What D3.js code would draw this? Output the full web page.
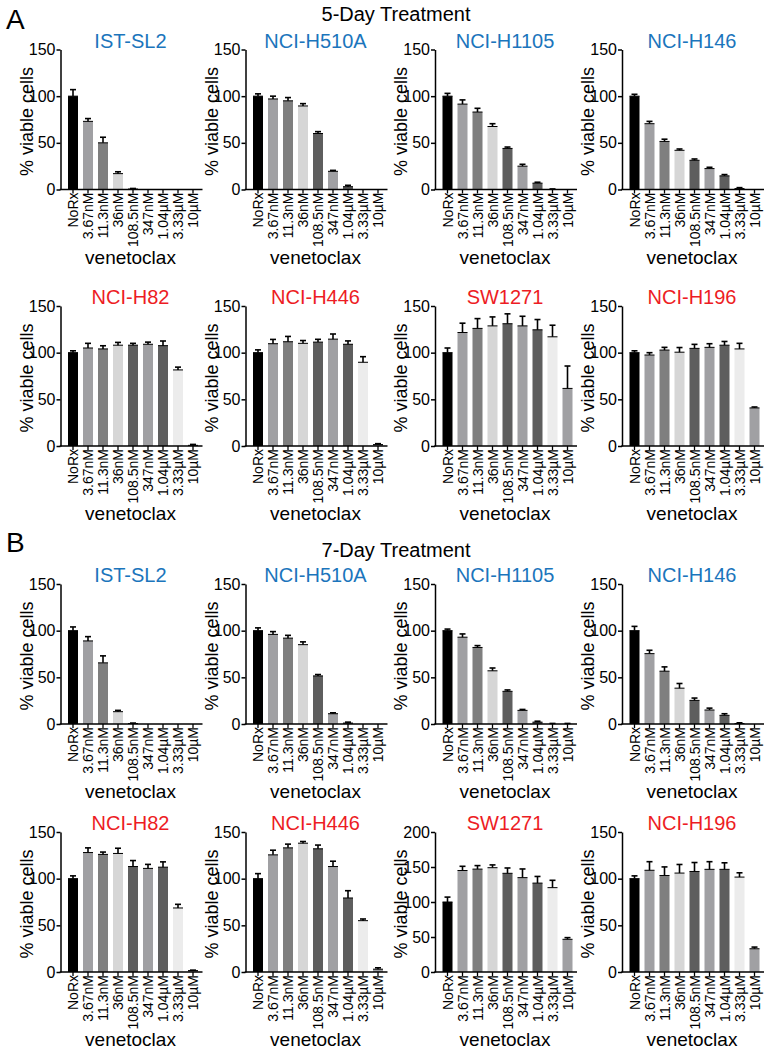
<!DOCTYPE html>
<html><head><meta charset="utf-8">
<script src="https://cdn.jsdelivr.net/npm/d3@7"></script>
<style>
body{margin:0;background:#fff}
svg{display:block}
text{font-family:Arial,"Liberation Sans",Helvetica,sans-serif;fill:#000}
</style>
</head><body>
<svg id="chart" width="770" height="1050"></svg>
<script>
// ---------- data ----------
const categories = ["NoRx","3.67nM","11.3nM","36nM","108.5nM","347nM","1.04µM","3.33µM","10µM"];
const cellLines = ["IST-SL2","NCI-H510A","NCI-H1105","NCI-H146","NCI-H82","NCI-H446","SW1271","NCI-H196"];
const sensitiveLines = ["IST-SL2","NCI-H510A","NCI-H1105","NCI-H146"];
const blockTitles = ["5-Day Treatment","7-Day Treatment"];
const blockLetters = ["A","B"];
const yTicksStd = [0,50,100,150];
const yTicksWide = [0,50,100,150,200];
const xAxisTitle = "venetoclax";
const yAxisTitle = "% viable cells";

// 5-day treatment (mean, error)
const d5_ISTSL2      = [100, 73, 50, 17, 0.5, 0, 0, 0, 0];
const d5_ISTSL2_err  = [7, 3, 6, 2, 0.6, 0, 0, 0, 0];
const d5_H510A       = [100, 97, 95, 89.5, 60, 19.5, 3, 0, 0];
const d5_H510A_err   = [2.5, 3, 3.5, 2.5, 2, 1, 1.5, 0, 0];
const d5_H1105       = [100, 91.5, 83, 67.5, 44, 25, 6.8, 0.3, 0];
const d5_H1105_err   = [3, 4.5, 4, 3, 1.5, 2, 1, 0.3, 0];
const d5_H146        = [100, 70.5, 51.5, 42, 31.3, 22.4, 14.6, 1, 0];
const d5_H146_err    = [2, 2.5, 2.4, 1.4, 1.4, 1.4, 1.4, 1, 0];
const d5_H82         = [100, 105, 104, 108, 108, 109, 107.5, 81.5, 0.7];
const d5_H82_err     = [2, 5, 3.4, 3, 2, 2.3, 5, 3, 1];
const d5_H446        = [100, 109.6, 111.7, 110, 111.3, 114.5, 109, 89.7, 1.5];
const d5_H446_err    = [3, 4.6, 5.7, 3, 3, 5.5, 3.6, 6, 1];
const d5_SW1271      = [100, 121.6, 126, 128.7, 131, 128.7, 124.5, 117, 61.7];
const d5_SW1271_err  = [5, 10, 10.5, 9.6, 10.6, 10.3, 11, 12.4, 24];
const d5_H196        = [100, 97.5, 102.8, 100.5, 104.6, 105.7, 108, 104, 40.8];
const d5_H196_err    = [2, 2.5, 2.9, 5, 4.3, 3.9, 4, 6, 1];

// 7-day treatment (mean, error)
const d7_ISTSL2      = [100, 89, 65.5, 13.2, 0.5, 0, 0, 0, 0];
const d7_ISTSL2_err  = [4, 4.6, 7.5, 1.4, 0.5, 0, 0, 0, 0];
const d7_H510A       = [100, 96, 92, 85, 51.5, 11, 1, 0, 0];
const d7_H510A_err   = [3, 3, 3, 3, 1.5, 1, 1, 0, 0];
const d7_H1105       = [100, 93, 82, 57, 35, 14.6, 2, 0.3, 0.3];
const d7_H1105_err   = [1.7, 3.5, 2, 3, 1.5, 1, 1, 0.3, 0.3];
const d7_H146        = [100, 75.4, 56.6, 38.4, 25.3, 15, 9.3, 0.5, 0];
const d7_H146_err    = [4.6, 3.6, 4.6, 5, 2.5, 2, 1.7, 0.8, 0];
const d7_H82         = [100, 128, 126, 127, 113, 111, 112.3, 68.6, 1.5];
const d7_H82_err     = [3, 5, 2.5, 5.6, 6.4, 4.3, 5.7, 3.9, 0.5];
const d7_H446        = [100, 125.5, 133, 138, 132, 113, 79.3, 55, 3];
const d7_H446_err    = [5.4, 5, 4, 1.8, 4, 5.7, 7.8, 1.8, 1.5];
const d7_SW1271      = [100, 145, 147, 149, 141, 134.8, 127, 120.5, 46.7];
const d7_SW1271_err  = [7, 6, 5, 4, 7.6, 12.4, 9.5, 10.5, 2.4];
const d7_H196        = [100, 109, 103.4, 106, 107.7, 110, 110, 101.7, 24.9];
const d7_H196_err    = [3, 9.2, 9.2, 9.2, 9.6, 8.2, 7, 4.6, 1.8];

// ---------- styles / layout ----------
const barFill = ["#000000","#a0a0a3","#7f7f7f","#d6d6d6","#5e5e5e","#a0a0a3","#5e5e5e","#ececec","#a0a0a3"];
const blue = "#1b75bc", red = "#ed1c24";
const colX = [60.5, 245.5, 435, 622];
const rowZero = [189.5, 446, 724, 972];
const plotH = 140, axisW = 142;

const blocks = [
  {vals:[d5_ISTSL2,d5_H510A,d5_H1105,d5_H146,d5_H82,d5_H446,d5_SW1271,d5_H196],
   errs:[d5_ISTSL2_err,d5_H510A_err,d5_H1105_err,d5_H146_err,d5_H82_err,d5_H446_err,d5_SW1271_err,d5_H196_err],
   ticks:[yTicksStd,yTicksStd,yTicksStd,yTicksStd,yTicksStd,yTicksStd,yTicksStd,yTicksStd]},
  {vals:[d7_ISTSL2,d7_H510A,d7_H1105,d7_H146,d7_H82,d7_H446,d7_SW1271,d7_H196],
   errs:[d7_ISTSL2_err,d7_H510A_err,d7_H1105_err,d7_H146_err,d7_H82_err,d7_H446_err,d7_SW1271_err,d7_H196_err],
   ticks:[yTicksStd,yTicksStd,yTicksStd,yTicksStd,yTicksStd,yTicksStd,yTicksWide,yTicksStd]}
];

const svg = d3.select("#chart");

// block letters and titles
const letterY = [29, 552], titleY = [21, 557];
blocks.forEach((b, bi) => {
  svg.append("text").attr("x", 6).attr("y", letterY[bi]).attr("font-size", 28).text(blockLetters[bi]);
  svg.append("text").attr("x", 396).attr("y", titleY[bi]).attr("text-anchor","middle")
     .attr("font-size", 20).text(blockTitles[bi]);
});

blocks.forEach((b, bi) => {
  cellLines.forEach((name, pi) => {
    const row = bi*2 + Math.floor(pi/4), col = pi % 4;
    const x0 = colX[col], y0 = rowZero[row];
    const ticks = b.ticks[pi];
    const ymax = d3.max(ticks);
    const y = d3.scaleLinear().domain([0, ymax]).range([y0, y0 - plotH]);
    const x = d3.scaleBand().domain(categories).range([x0 + 5, x0 + 140])
                .paddingInner(1/3).paddingOuter(1/6);
    const g = svg.append("g");
    const vals = b.vals[pi], errs = b.errs[pi];
    const data = categories.map((c, i) => ({c, v: vals[i], e: errs[i], fill: barFill[i]}));

    // bars
    g.selectAll("rect.bar").data(data).join("rect")
      .attr("x", d => x(d.c)).attr("width", x.bandwidth())
      .attr("y", d => y(d.v)).attr("height", d => y0 - y(d.v))
      .attr("fill", d => d.fill);
    // bar top edge
    g.selectAll("line.top").data(data.filter(d => d.v > 0.4)).join("line")
      .attr("x1", d => x(d.c)).attr("x2", d => x(d.c) + x.bandwidth())
      .attr("y1", d => y(d.v)).attr("y2", d => y(d.v))
      .attr("stroke", "#000").attr("stroke-width", 1);
    // error bars
    const eb = data.filter(d => d.e > 0);
    g.selectAll("line.err").data(eb).join("line")
      .attr("x1", d => x(d.c) + x.bandwidth()/2).attr("x2", d => x(d.c) + x.bandwidth()/2)
      .attr("y1", d => y(d.v)).attr("y2", d => y(d.v + d.e))
      .attr("stroke", "#000").attr("stroke-width", 1.6);
    g.selectAll("line.cap").data(eb).join("line")
      .attr("x1", d => x(d.c) + x.bandwidth()/2 - 3).attr("x2", d => x(d.c) + x.bandwidth()/2 + 3)
      .attr("y1", d => y(d.v + d.e)).attr("y2", d => y(d.v + d.e))
      .attr("stroke", "#000").attr("stroke-width", 1.6);

    // y axis
    const ya = g.append("g").attr("transform", `translate(${x0},0)`)
      .call(d3.axisLeft(y).tickValues(ticks).tickSize(4).tickSizeOuter(0).tickPadding(1).tickFormat(d3.format("d")));
    ya.select(".domain").attr("stroke-width", 1.5);
    ya.selectAll(".tick line").attr("stroke-width", 1.5);
    ya.selectAll("text").attr("font-size", 16).style("font-family", "Arial, 'Liberation Sans', sans-serif");

    // x axis
    const xa = g.append("g").attr("transform", `translate(0,${y0})`)
      .call(d3.axisBottom(x).tickSize(4).tickSizeOuter(0));
    xa.select(".domain").remove();
    xa.selectAll(".tick line").attr("stroke-width", 1.3);
    xa.selectAll("text")
      .attr("font-size", 14).style("font-family", "Arial, 'Liberation Sans', sans-serif")
      .attr("transform", "rotate(-90)").attr("text-anchor", "end")
      .attr("x", -3).attr("y", 0).attr("dy", "0.36em");
    g.append("line").attr("x1", x0 - 0.75).attr("x2", x0 + axisW)
      .attr("y1", y0).attr("y2", y0).attr("stroke", "#000").attr("stroke-width", 1.5);

    // titles
    g.append("text").attr("x", x0 + 70).attr("y", y0 - plotH - 2).attr("text-anchor", "middle")
      .attr("font-size", 20).style("fill", sensitiveLines.includes(name) ? blue : red).text(name);
    g.append("text").attr("x", x0 + 70).attr("y", y0 + 74).attr("text-anchor", "middle")
      .attr("font-size", 19).text(xAxisTitle);
    g.append("text").attr("transform", `translate(${x0 - 28},${y0 - plotH/2 + 2}) rotate(-90)`)
      .attr("text-anchor", "middle").attr("font-size", 18).text(yAxisTitle);
  });
});
</script>
</body></html>
